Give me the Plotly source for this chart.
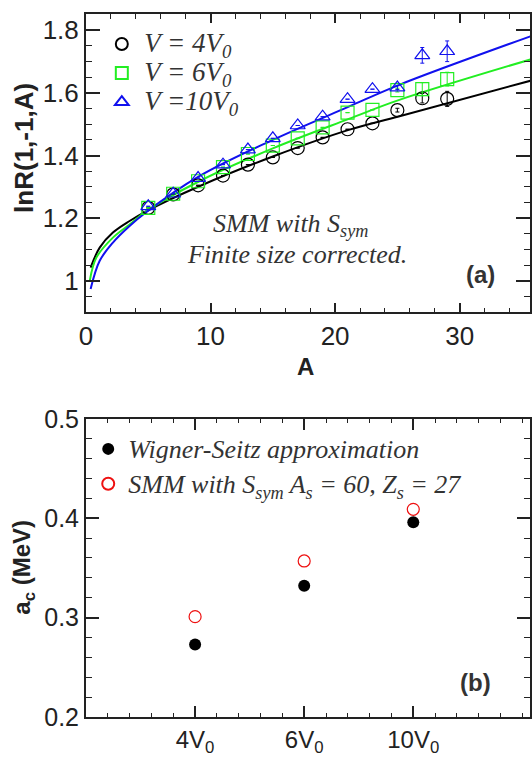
import plotly.graph_objects as go

# ---------------- data: panel (a) ----------------
A_pts = [5, 7, 9, 11, 13, 15, 17, 19, 21, 23, 25, 27, 29]
lnR_4V0 = [1.233, 1.276, 1.305, 1.336, 1.371, 1.394, 1.424, 1.458, 1.484, 1.503, 1.545, 1.583, 1.581]
lnR_6V0 = [1.233, 1.278, 1.318, 1.363, 1.405, 1.432, 1.455, 1.490, 1.537, 1.546, 1.609, 1.612, 1.644]
lnR_10V0 = [1.238, 1.278, 1.328, 1.371, 1.419, 1.455, 1.496, 1.524, 1.580, 1.612, 1.617, 1.720, 1.733]
err_4V0 = [0, 0, 0, 0, 0, 0, 0, 0, 0, 0, 0.006, 0.015, 0.024]
err_6V0 = [0, 0, 0, 0, 0, 0, 0, 0, 0, 0, 0.006, 0.021, 0.022]
err_10V0 = [0, 0, 0, 0, 0, 0, 0, 0, 0, 0, 0.006, 0.025, 0.033]

# fitted curves
A_fit_4V0 = [0.37, 1.1, 2.16, 3.5, 4.83, 9.1, 15.0, 21.1, 25.1, 35.7]
fit_4V0 = [1.042, 1.106, 1.154, 1.191, 1.222, 1.302, 1.397, 1.482, 1.525, 1.639]
A_fit_6V0 = [0.3, 0.83, 2.16, 3.5, 4.83, 9.1, 15.0, 21.1, 25.1, 35.7]
fit_6V0 = [1.000, 1.074, 1.138, 1.180, 1.222, 1.318, 1.423, 1.517, 1.577, 1.707]
A_fit_10V0 = [0.37, 1.1, 2.16, 3.5, 4.83, 9.1, 15.0, 21.1, 25.1, 35.7]
fit_10V0 = [0.974, 1.064, 1.122, 1.175, 1.219, 1.334, 1.450, 1.556, 1.625, 1.781]

# ---------------- data: panel (b) ----------------
V_pos = [1, 2, 3]
V_labels = ["4V<sub>0</sub>", "6V<sub>0</sub>", "10V<sub>0</sub>"]
ac_WS = [0.273, 0.332, 0.396]
ac_SMM = [0.301, 0.357, 0.409]

SANS = "Liberation Sans"
SERIF = "Liberation Serif"
AX = "#222222"

fig = go.Figure()

series = [
    ("V = 4V<sub>0</sub>", lnR_4V0, err_4V0, "black", "circle-open", A_fit_4V0, fit_4V0),
    ("V = 6V<sub>0</sub>", lnR_6V0, err_6V0, "#22ee22", "square-open", A_fit_6V0, fit_6V0),
    ("V =10V<sub>0</sub>", lnR_10V0, err_10V0, "#1111ee", "triangle-up-open", A_fit_10V0, fit_10V0),
]
for name, ys, es, col, sym, fx, fy in series:
    fig.add_trace(go.Scatter(
        x=fx, y=fy, mode="lines", line=dict(color=col, width=2, shape="spline"),
        showlegend=False, xaxis="x", yaxis="y", hoverinfo="skip"))
for name, ys, es, col, sym, fx, fy in series:
    fig.add_trace(go.Scatter(
        x=A_pts, y=ys, mode="markers",
        marker=dict(symbol=sym, size=13, color=col, line=dict(width=1.2, color=col)),
        error_y=dict(type="data", array=es, color=col, thickness=1, width=2),
        name='<span style="font-size:27px">' + name + '</span>',
        legend="legend", xaxis="x", yaxis="y"))

fig.add_trace(go.Scatter(
    x=V_pos, y=ac_WS, mode="markers",
    marker=dict(symbol="circle", size=12, color="black"),
    name='<span style="font-size:26px">Wigner-Seitz approximation</span>',
    legend="legend2", xaxis="x2", yaxis="y2"))
fig.add_trace(go.Scatter(
    x=V_pos, y=ac_SMM, mode="markers",
    marker=dict(symbol="circle-open", size=12, color="#ee1111", line=dict(width=1.2, color="#ee1111")),
    name='<span style="font-size:26px">SMM with S<sub>sym</sub> A<sub>s</sub> = 60, Z<sub>s</sub> = 27</span>',
    legend="legend2", xaxis="x2", yaxis="y2"))

axis_common = dict(showline=True, linecolor=AX, linewidth=2, mirror="ticks", ticks="inside",
                   tickcolor=AX, tickwidth=1.5, showgrid=False, zeroline=False,
                   tickfont=dict(family=SANS, size=26, color="#222"))

fig.update_layout(
    width=532, height=757,
    margin=dict(l=86, r=0, t=12, b=40),
    paper_bgcolor="white", plot_bgcolor="white",
    xaxis=dict(axis_common, domain=[0, 1], anchor="y", range=[0, 35.65], dtick=10, ticklen=9,
               minor=dict(dtick=2, ticklen=4.5, ticks="inside", tickcolor=AX, tickwidth=1.2)),
    yaxis=dict(axis_common, domain=[0.5759, 1.0], anchor="x", range=[0.9, 1.852], dtick=0.2,
               tickvals=[1.0, 1.2, 1.4, 1.6, 1.8], ticktext=["1", "1.2", "1.4", "1.6", "1.8"],
               ticklen=14,
               minor=dict(dtick=0.05, tick0=0.9, ticklen=6, ticks="inside", tickcolor=AX, tickwidth=1.2)),
    xaxis2=dict(axis_common, domain=[0, 1], anchor="y2", range=[0, 4.07],
                tickvals=V_pos, ticktext=V_labels, ticklen=11,
                tickfont=dict(family=SANS, size=24, color="#222"),
                minor=dict(dtick=0.2, tick0=0, ticklen=4, ticks="inside", tickcolor=AX, tickwidth=1.2)),
    yaxis2=dict(axis_common, domain=[0, 0.4241], anchor="x2", range=[0.2, 0.5], dtick=0.1,
                tickformat=".1f", ticklen=13,
                tickfont=dict(family=SANS, size=25, color="#222"),
                minor=dict(dtick=0.02, tick0=0.2, ticklen=6, ticks="inside", tickcolor=AX, tickwidth=1.2)),
    legend=dict(x=0.03, y=0.985, xanchor="left", yanchor="top", bgcolor="rgba(0,0,0,0)",
                font=dict(family=SERIF, size=20, style="italic", color="#333"),
                itemsizing="constant", tracegroupgap=0, itemwidth=35),
    legend2=dict(x=0.005, y=0.4133, xanchor="left", yanchor="top", bgcolor="rgba(0,0,0,0)",
                 font=dict(family=SERIF, size=24.5, style="italic", color="#333"),
                 itemsizing="constant", tracegroupgap=0),
    showlegend=True,
    annotations=[
        dict(text="lnR(1,-1,A)", xref="paper", yref="paper", x=(23 - 86) / 446, y=(717 - 146) / 705,
             textangle=-90, showarrow=False, font=dict(family=SANS, size=26, weight="bold", color="#222"),
             xanchor="center", yanchor="middle"),
        dict(text="A", xref="paper", yref="paper", x=(306 - 86) / 446, y=(717 - 366) / 705,
             showarrow=False, font=dict(family=SANS, size=24, weight="bold", color="#222"),
             xanchor="center", yanchor="middle"),
        dict(text="a<sub>c</sub> (MeV)", xref="paper", yref="paper", x=(23 - 86) / 446, y=(717 - 567) / 705,
             textangle=-90, showarrow=False, font=dict(family=SANS, size=24, weight="bold", color="#222"),
             xanchor="center", yanchor="middle"),
        dict(text="SMM with S<sub>sym</sub>", xref="paper", yref="paper", x=(291 - 86) / 446,
             y=(717 - 224) / 705, showarrow=False,
             font=dict(family=SERIF, size=26, style="italic", color="#333"),
             xanchor="center", yanchor="middle"),
        dict(text="Finite size corrected.", xref="paper", yref="paper", x=(297.5 - 86) / 446,
             y=(717 - 253) / 705, showarrow=False,
             font=dict(family=SERIF, size=26, style="italic", color="#333"),
             xanchor="center", yanchor="middle"),
        dict(text="(a)", xref="paper", yref="paper", x=(482 - 86) / 446, y=(717 - 273) / 705,
             showarrow=False, font=dict(family=SANS, size=24, weight="bold", color="#333"),
             xanchor="center", yanchor="middle"),
        dict(text="(b)", xref="paper", yref="paper", x=(477 - 86) / 446, y=(717 - 682) / 705,
             showarrow=False, font=dict(family=SANS, size=24, weight="bold", color="#333"),
             xanchor="center", yanchor="middle"),
    ],
)

fig.write_html("out.html")
